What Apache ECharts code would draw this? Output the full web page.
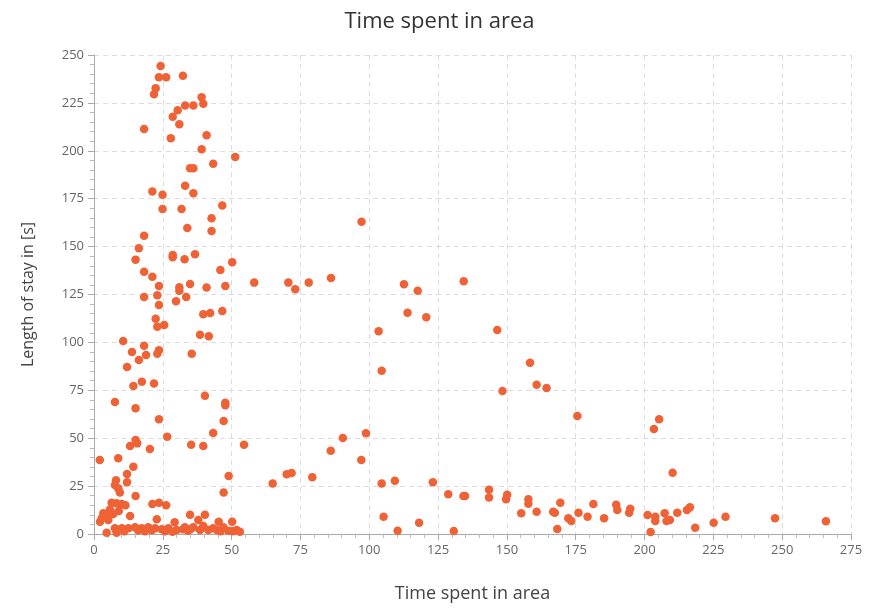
<!DOCTYPE html>
<html>
<head>
<meta charset="utf-8">
<script src="https://cdn.jsdelivr.net/npm/echarts@6/dist/echarts.min.js"></script>
<style>html,body{margin:0;padding:0;background:#fff;}#c{width:879px;height:608px;}</style>
</head>
<body>
<div id="c"></div>
<script>
const chartTitle = "Time spent in area";
const xAxisName = "Time spent in area";
const yAxisName = "Length of stay in [s]";

const timeInArea = [
24.2,23.6,26.2,32.3,22.4,21.8,39.1,39.7,33.1,36.1,30.4,28.6,31.0,18.2,40.9,27.9,39.1,51.3,43.3,34.9,36.1,33.1,21.2,24.9,36.1,46.6,24.9,31.8,
42.7,33.9,42.7,18.2,16.3,28.6,28.6,15.1,32.9,36.7,50.2,18.2,45.9,21.2,23.6,31.0,31.0,34.9,40.9,47.7,58.2,18.2,23.0,33.5,29.8,23.6,39.7,42.2,46.6,22.4,23.0,25.5,38.5,41.7,10.6,18.2,13.8,23.6,23.0,18.9,35.5,16.3,12.0,
14.3,17.4,21.8,40.3,7.6,47.7,47.7,15.1,23.6,47.1,43.3,26.6,15.1,15.7,13.1,35.3,39.7,54.5,20.3,2.1,8.8,14.3,48.9,12.0,12.0,8.0,7.6,8.8,9.4,47.1,15.1,6.4,8.2,10.1,11.4,21.2,23.6,26.2,3.4,4.6,7.0,2.8,5.2,2.2,13.1,22.8,29.3,34.9,37.9,40.3,45.3,50.2,5.8,9.0,
7.6,10.1,12.5,14.9,17.3,19.7,22.2,24.6,27.0,4.6,8.2,30.0,32.4,34.2,36.1,38.5,39.7,41.5,43.3,44.6,47.0,48.8,51.8,53.0,50.4,16.0,18.5,21.0,25.8,28.5,11.0,33.0,35.0,46.0,
97.2,70.6,73.1,78.0,86.1,112.6,117.6,134.3,103.4,113.9,120.7,146.5,104.5,158.4,160.8,164.4,148.4,90.4,98.8,86.0,97.1,64.9,70.0,71.8,79.3,104.5,109.3,123.1,128.7,134.2,134.8,143.5,143.5,150.1,149.7,157.8,157.8,155.2,160.8,105.2,118.1,110.3,130.7,
175.6,205.3,203.4,210.2,169.4,167.4,166.8,168.3,172.3,173.4,176.0,179.3,181.4,185.3,189.7,190.1,194.4,194.8,201.1,202.2,203.9,203.9,207.3,208.0,209.2,211.9,215.4,216.5,218.4,225.1,229.4,247.4,265.9
];

const lengthOfStay = [
244.3,238.4,238.4,239.2,232.6,229.5,227.9,224.6,223.7,223.7,221.2,217.8,213.9,211.4,208.1,206.5,200.8,196.8,193.3,190.9,190.9,181.8,178.7,177.0,177.8,171.4,169.6,169.6,
164.8,159.7,158.1,155.7,149.1,145.6,144.4,143.2,143.4,146.0,141.8,136.9,137.8,134.3,129.4,128.8,127.0,130.5,128.6,129.4,131.2,123.7,124.6,123.7,121.5,119.5,114.7,115.3,116.4,112.4,108.2,109.1,104.0,103.2,100.7,98.3,95.0,95.9,94.1,93.4,94.1,90.8,87.2,
77.2,79.5,78.6,72.2,68.9,68.5,67.2,65.6,59.9,59.0,52.7,50.8,49.1,47.3,45.9,46.6,45.9,46.6,44.4,38.6,39.5,35.1,30.3,31.3,27.0,28.0,25.6,23.9,21.6,21.6,19.8,16.3,16.0,15.7,15.0,15.7,16.3,15.0,10.8,9.9,10.4,8.2,7.3,6.4,9.4,7.7,6.1,10.0,7.3,10.0,6.4,6.4,12.8,12.0,
3.0,3.0,3.0,3.5,3.0,3.5,3.0,2.5,3.0,0.7,0.7,2.1,2.5,1.7,3.5,2.1,4.2,2.1,3.0,2.1,3.5,1.7,2.1,1.2,1.5,2.0,1.5,2.0,1.5,1.2,1.5,3.5,2.5,1.5,
163.0,131.2,127.7,131.2,133.6,130.3,127.0,131.9,105.8,115.5,113.1,106.5,85.2,89.4,77.9,76.2,74.6,50.1,52.6,43.5,38.6,26.3,31.2,31.8,29.6,26.3,27.8,27.0,20.7,19.8,19.8,23.1,19.0,20.5,18.1,18.1,15.8,10.8,11.6,9.0,5.9,1.7,1.6,
61.6,59.9,54.8,32.0,16.3,11.1,11.6,2.6,8.2,6.8,11.1,9.0,15.7,8.2,15.3,12.5,11.1,13.2,9.9,1.0,9.0,6.8,10.8,6.8,7.3,11.1,12.5,13.9,3.3,5.9,9.0,8.2,6.6
];

const points = timeInArea.map((x, i) => [x, lengthOfStay[i]]);

const chart = echarts.init(document.getElementById('c'), null, {renderer: 'canvas'});
const axisLabelStyle = {color: '#666', fontSize: 13, fontFamily: 'Open Sans'};
chart.setOption({
  animation: false,
  backgroundColor: '#fff',
  title: {
    text: chartTitle, left: 'center', top: 6,
    textStyle: {fontFamily: 'Open Sans', fontWeight: 'normal', fontSize: 22, color: '#333'}
  },
  grid: {left: 94, right: 28, top: 55, bottom: 74},
  xAxis: {
    type: 'value', min: 0, max: 275, interval: 25,
    name: xAxisName, nameLocation: 'middle', nameGap: 51,
    nameTextStyle: {fontFamily: 'Open Sans', fontSize: 18, color: '#444'},
    axisLine: {show: true, onZero: false, lineStyle: {color: '#aaa'}},
    axisTick: {show: true, length: 6, lineStyle: {color: '#aaa'}},
    minorTick: {show: true, splitNumber: 5, length: 4, lineStyle: {color: '#bbb'}},
    axisLabel: Object.assign({margin: 10}, axisLabelStyle),
    splitLine: {show: true, lineStyle: {color: '#ddd', type: [5, 4]}}
  },
  yAxis: {
    type: 'value', min: 0, max: 250, interval: 25,
    name: yAxisName, nameLocation: 'middle', nameGap: 58,
    nameTextStyle: {fontFamily: 'Open Sans', fontSize: 16, color: '#444'},
    axisLine: {show: true, onZero: false, lineStyle: {color: '#aaa'}},
    axisTick: {show: true, length: 6, lineStyle: {color: '#aaa'}},
    minorTick: {show: true, splitNumber: 5, length: 4, lineStyle: {color: '#bbb'}},
    axisLabel: Object.assign({margin: 10}, axisLabelStyle),
    splitLine: {show: true, lineStyle: {color: '#ddd', type: [5, 4]}}
  },
  series: [{
    type: 'scatter',
    data: points,
    symbolSize: 8.5,
    itemStyle: {color: '#ef6236', opacity: 1}
  }]
});
</script>
</body>
</html>
